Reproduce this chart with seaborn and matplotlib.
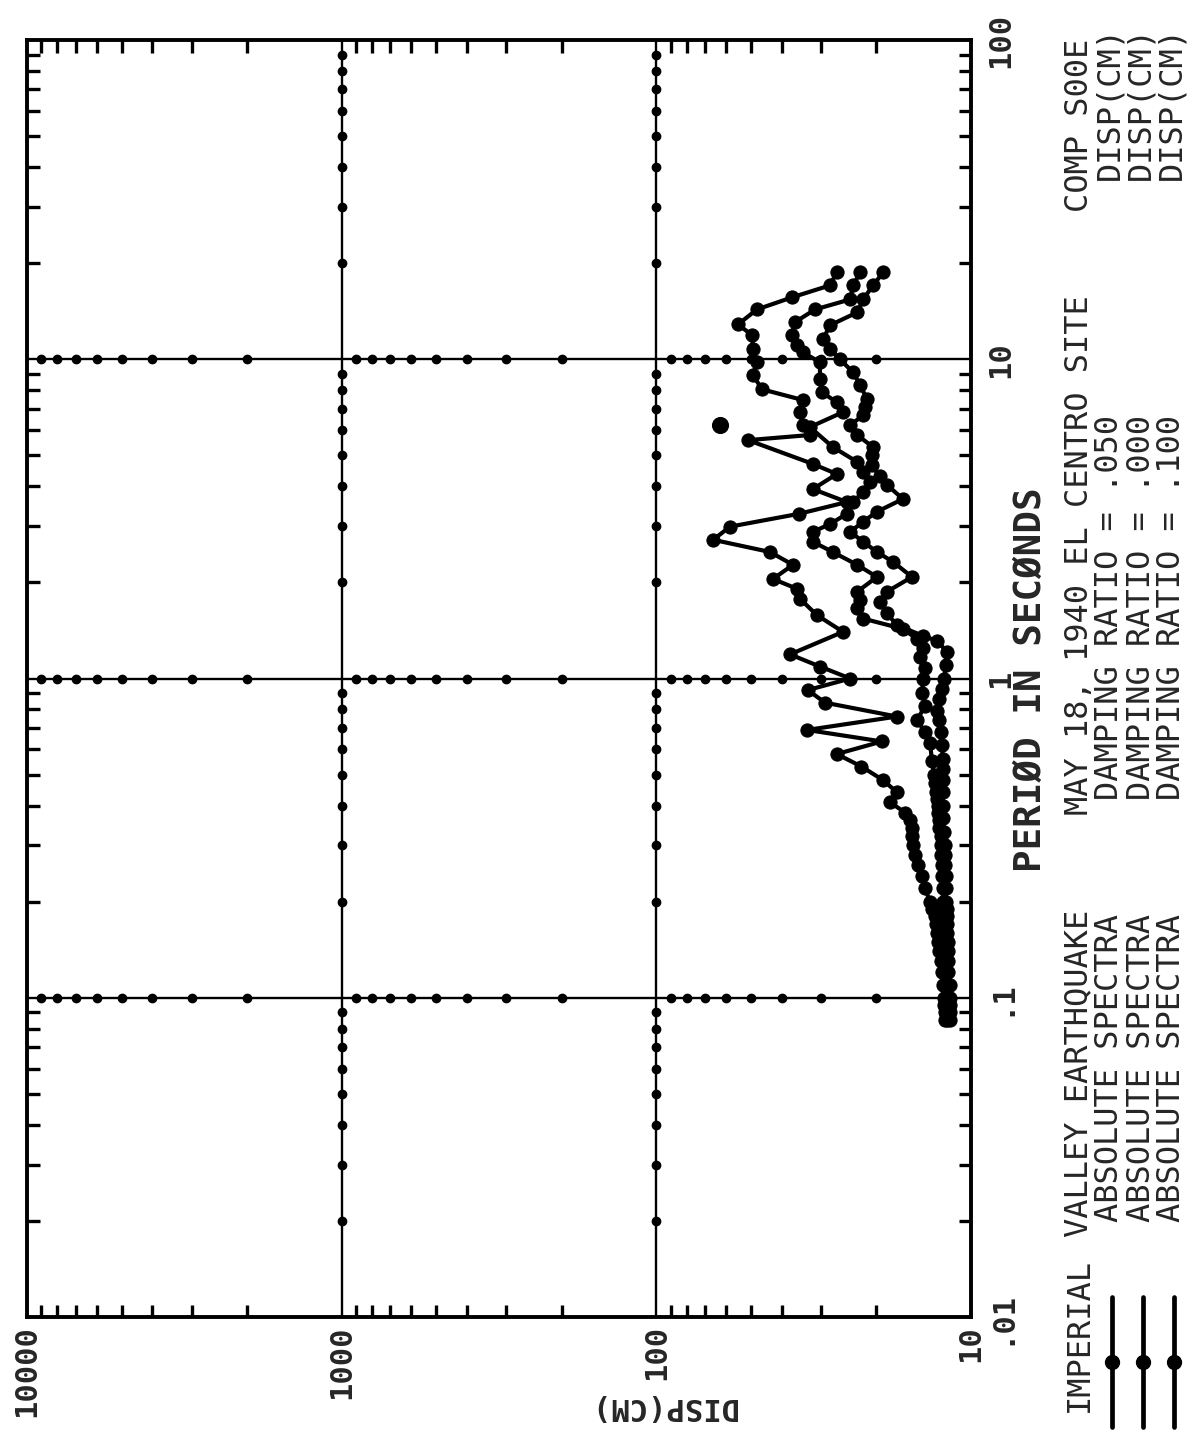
import numpy as np
import matplotlib
matplotlib.use("Agg")
import matplotlib.pyplot as plt
import seaborn as sns
from matplotlib.lines import Line2D
from matplotlib.ticker import LogLocator, NullFormatter

# response spectra, Imperial Valley 1940, El Centro, comp S00E
# period (s) and displacement (cm)
P000 = [0.085, 0.09, 0.095, 0.10, 0.11, 0.12, 0.13, 0.14, 0.15, 0.16, 0.17, 0.18, 0.19, 0.20,
        0.22, 0.24, 0.26, 0.28, 0.30, 0.32, 0.34, 0.36, 0.38, 0.41, 0.44, 0.48, 0.53, 0.58,
        0.635, 0.69, 0.76, 0.84, 0.92, 1.0, 1.09, 1.19, 1.40, 1.58, 1.78, 1.91, 2.05, 2.27,
        2.49, 2.72, 2.99, 3.28, 3.57, 3.92, 4.37, 4.70, 5.58, 5.79, 6.22, 6.83, 7.45, 8.05,
        8.91, 9.79, 10.74, 11.89, 12.86, 14.32, 15.62, 17.03, 18.7]
D000 = [12.1, 12.1, 12.2, 12.2, 12.3, 12.4, 12.5, 12.6, 12.7, 12.8, 12.9, 13.0, 13.3, 13.5,
        14.0, 14.3, 14.7, 15.1, 15.3, 15.4, 15.4, 15.6, 16.2, 18.1, 17.2, 19.0, 22.3, 26.7,
        19.2, 33.2, 17.2, 29.1, 33.0, 24.2, 30.2, 37.6, 25.5, 30.9, 35.0, 35.7, 42.6, 36.8,
        43.5, 66.0, 58.3, 35.2, 24.8, 31.8, 26.7, 31.8, 51.1, 32.5, 34.2, 35.0, 34.2, 46.1,
        49.3, 47.9, 49.3, 49.6, 55.0, 47.9, 37.1, 28.1, 26.7]
# single point drawn without connecting line
P000_LONE = [6.22]
D000_LONE = [62.8]

P050 = [0.085, 0.09, 0.095, 0.10, 0.11, 0.12, 0.13, 0.14, 0.15, 0.16, 0.17, 0.18, 0.19, 0.20,
        0.22, 0.24, 0.26, 0.28, 0.30, 0.32, 0.34, 0.36, 0.38, 0.40, 0.42, 0.44, 0.47, 0.50,
        0.55, 0.63, 0.68, 0.74, 0.82, 0.90, 1.0, 1.08, 1.17, 1.25, 1.33, 1.43, 1.54, 1.66,
        1.76, 1.87, 2.08, 2.27, 2.49, 2.68, 2.88, 3.05, 3.28, 3.57, 3.85, 4.13, 4.45, 4.77,
        5.31, 6.13, 6.83, 7.34, 7.88, 8.66, 9.79, 10.5, 11.07, 11.89, 13.06, 14.32, 15.4,
        17.03, 18.7]
D050 = [11.9, 11.9, 11.9, 12.0, 12.0, 12.0, 12.1, 12.1, 12.1, 12.2, 12.2, 12.2, 12.3, 12.3,
        12.3, 12.4, 12.4, 12.5, 12.5, 12.5, 12.6, 12.6, 12.7, 12.7, 12.8, 12.9, 13.0, 13.1,
        13.3, 13.5, 14.0, 14.85, 14.0, 14.3, 14.2, 14.0, 14.5, 14.2, 14.85, 16.45, 22.0, 23.0,
        22.5, 23.0, 19.9, 23.0, 27.5, 31.8, 31.8, 28.0, 24.8, 23.7, 22.0, 20.9, 22.0, 23.0,
        27.5, 32.5, 25.5, 26.7, 29.8, 30.2, 30.2, 34.2, 35.7, 37.1, 36.3, 31.3, 24.2,
        23.7, 22.5]

P100 = [0.085, 0.09, 0.095, 0.10, 0.11, 0.12, 0.13, 0.14, 0.15, 0.16, 0.17, 0.18, 0.19, 0.20,
        0.22, 0.24, 0.26, 0.28, 0.30, 0.33, 0.365, 0.40, 0.44, 0.48, 0.52, 0.56, 0.62, 0.68,
        0.74, 0.79, 0.86, 0.93, 1.0, 1.1, 1.21, 1.31, 1.36, 1.47, 1.60, 1.74, 1.87, 2.08,
        2.32, 2.49, 2.68, 2.88, 3.10, 3.33, 3.65, 4.04, 4.30, 4.66, 5.0, 5.31, 5.79, 6.22,
        6.68, 7.1, 7.5, 8.29, 9.1, 10.0, 10.74, 11.55, 12.77, 14.02, 15.4, 17.03, 18.7]
D100 = [11.7, 11.7, 11.7, 11.7, 11.7, 11.8, 11.8, 11.8, 11.8, 11.9, 11.9, 11.9, 11.9, 12.0,
        12.0, 12.0, 12.1, 12.1, 12.1, 12.2, 12.27, 12.3, 12.3, 12.3, 12.3, 12.27, 12.4, 12.5,
        12.6, 12.8, 12.6, 12.4, 12.2, 12.0, 11.9, 12.8, 14.2, 17.2, 18.5, 19.5, 18.5, 15.4,
        17.7, 19.9, 22.0, 24.2, 22.0, 19.9, 16.45, 18.5, 19.5, 20.7, 20.6, 20.5, 23.0, 24.2,
        22.0, 21.7, 21.4, 22.5, 23.7, 26.1, 28.1, 29.5, 28.1, 23.0, 22.0, 20.5, 19.0]

DISP_TICKS = [10000, 1000, 100, 10]
DISP_LABELS = ["10000", "1000", "100", "10"]
PERIOD_TICKS = [0.01, 0.1, 1, 10, 100]
PERIOD_LABELS = [".01", ".1", "1", "10", "100"]

TITLE_PARTS = ["IMPERIAL", "VALLEY EARTHQUAKE", "MAY 18, 1940 EL CENTRO SITE", "COMP S00E"]
DAMPING = [".050", ".000", ".100"]

W, H = 1196, 1435

sns.set_style("white")
plt.rcParams['font.family'] = ['DejaVu Sans Mono', 'DejaVu Sans']

fig = plt.figure(figsize=(W / 100, H / 100), dpi=100)

def fx(x):
    return x / W

def fy(y):
    return 1 - y / H

# plot box in pixels: left 27, right 971, top 40, bottom 1317
ax = fig.add_axes([fx(27), fy(1317), fx(971) - fx(27), fy(40) - fy(1317)])
ax.set_xscale("log")
ax.set_yscale("log")
ax.set_xlim(10000, 10)
ax.set_ylim(0.01, 100)

# grid lines with dots at the minor positions
per_minor = [k * 10.0 ** n for n in range(-2, 2) for k in range(2, 10)]
disp_minor = [k * 10.0 ** n for n in range(1, 4) for k in range(2, 10)]
for xv in [1000, 100]:
    ax.axvline(xv, color="black", lw=1.7, zorder=1)
    ax.plot([xv] * len(per_minor), per_minor, ls="none", marker="o", ms=6, color="black", zorder=1)
for yv in [0.1, 1, 10]:
    ax.axhline(yv, color="black", lw=1.7, zorder=1)
    ax.plot(disp_minor, [yv] * len(disp_minor), ls="none", marker="o", ms=6, color="black", zorder=1)

# the three spectra
for p, d in [(P000, D000), (P050, D050), (P100, D100)]:
    sns.lineplot(x=d, y=p, sort=False, estimator=None, color="black", lw=3.0,
                 marker="o", markersize=9.5, markeredgecolor="black", ax=ax, zorder=3)
sns.scatterplot(x=D000_LONE, y=P000_LONE, s=130, color="black", edgecolor="black", ax=ax, zorder=3)

for s in ax.spines.values():
    s.set_linewidth(2.8)
    s.set_color("black")

ax.set_xticks(DISP_TICKS, labels=DISP_LABELS)
ax.set_yticks(PERIOD_TICKS, labels=PERIOD_LABELS)
ax.xaxis.set_minor_locator(LogLocator(subs=range(2, 10)))
ax.yaxis.set_minor_locator(LogLocator(subs=range(2, 10)))
ax.xaxis.set_minor_formatter(NullFormatter())
ax.yaxis.set_minor_formatter(NullFormatter())
ax.yaxis.tick_right()
ax.tick_params(axis="y", which="both", left=True, right=True, labelleft=False, labelright=True)
ax.tick_params(axis="x", which="both", top=True, bottom=True)
ax.tick_params(axis="x", which="major", length=0, pad=6)
ax.tick_params(axis="y", which="major", length=0, pad=11)
ax.tick_params(which="minor", direction="in", length=9, width=2.4, color="black")
ax.set_xlabel("")
ax.set_ylabel("")
for t in ax.get_xticklabels():
    t.set_rotation(90)
    t.set_fontweight("bold")
    t.set_fontsize(22)
for t in ax.get_yticklabels():
    t.set_rotation(90)
    t.set_fontweight("bold")
    t.set_fontsize(22)
    t.set_va("center")
    t.set_ha("left")

# axis titles (page is turned a quarter)
fig.text(fx(1031), fy(680), "PERIØD IN SECØNDS", rotation=90, ha="center", va="center",
         fontsize=27, fontweight="bold")
fig.text(fx(663), fy(1406), "DISP(CM)", rotation=180, ha="center", va="center",
         fontsize=22, fontweight="bold")

# legend block
for part, y0 in zip(TITLE_PARTS, [1412, 1237, 815, 212]):
    fig.text(fx(1079), fy(y0), part, rotation=90, ha="center", va="bottom", fontsize=23)
for i, r in enumerate(DAMPING):
    xc = 1110 + 31 * i
    fig.text(fx(xc), fy(1222), "ABSOLUTE SPECTRA", rotation=90, ha="center", va="bottom", fontsize=23)
    fig.text(fx(xc), fy(800), "DAMPING RATIO = " + r, rotation=90, ha="center", va="bottom", fontsize=23)
    fig.text(fx(xc), fy(180), "DISP(CM)", rotation=90, ha="center", va="bottom", fontsize=23)
    lx = 1112 + 31 * i
    fig.add_artist(Line2D([fx(lx)] * 3, [fy(1427), fy(1362), fy(1297)], color="black", lw=3.4,
                          marker="o", markevery=[1], ms=10, transform=fig.transFigure))

fig.savefig("out.png", dpi=100, facecolor="white")
